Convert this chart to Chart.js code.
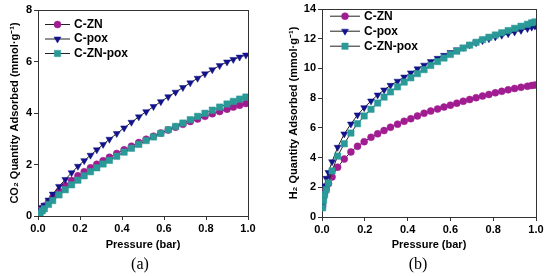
<!DOCTYPE html>
<html><head><meta charset="utf-8">
<script src="https://cdn.jsdelivr.net/npm/chart.js@4.4.1/dist/chart.umd.min.js"></script>
<style>
html,body{margin:0;padding:0;background:#fff;}
#wrap{position:relative;width:550px;height:276px;overflow:hidden;}
.cell{position:absolute;top:0;width:275px;height:276px;}
canvas{display:block;}
</style></head><body>
<div id="wrap">
<div class="cell" style="left:0"><canvas id="ca" width="275" height="276"></canvas></div>
<div class="cell" style="left:275px"><canvas id="cb" width="275" height="276"></canvas></div>
</div>
<script>
// ---------- DATA ----------
const seriesNames = ['C-ZN', 'C-pox', 'C-ZN-pox'];
const xTicks = [0.0, 0.2, 0.4, 0.6, 0.8, 1.0];
const yTicksA = [0, 2, 4, 6, 8];
const yTicksB = [0, 2, 4, 6, 8, 10, 12, 14];

// (a) CO2 adsorption, pressure in bar
const pressureA = [0.005,0.01,0.02,0.03,0.05,0.07,0.1,0.13,0.16,0.19,0.22,0.25,0.28,0.31,0.34,0.375,0.41,0.445,0.48,0.515,0.55,0.585,0.62,0.655,0.69,0.725,0.76,0.795,0.83,0.865,0.9,0.93,0.96,0.99];
const co2_CZN    = [0.12,0.2,0.3,0.38,0.55,0.72,0.95,1.18,1.38,1.56,1.72,1.87,2.01,2.15,2.28,2.43,2.57,2.71,2.85,2.98,3.1,3.22,3.34,3.45,3.56,3.67,3.77,3.87,3.97,4.06,4.15,4.23,4.3,4.37];
const co2_Cpox   = [0.1,0.2,0.32,0.42,0.62,0.85,1.15,1.42,1.68,1.93,2.15,2.36,2.57,2.78,2.98,3.2,3.42,3.64,3.85,4.05,4.25,4.44,4.63,4.81,4.99,5.17,5.35,5.52,5.68,5.84,5.98,6.08,6.17,6.25];
const co2_CZNpox = [0.05,0.1,0.2,0.28,0.45,0.6,0.82,1.02,1.21,1.39,1.56,1.72,1.87,2.02,2.16,2.32,2.48,2.63,2.78,2.93,3.07,3.21,3.35,3.48,3.61,3.74,3.87,3.99,4.11,4.23,4.35,4.45,4.54,4.62];

// (b) H2 adsorption, pressure in bar
const pressureB = [0.003,0.007,0.012,0.02,0.03,0.047,0.073,0.104,0.135,0.166,0.197,0.229,0.26,0.29,0.32,0.353,0.384,0.415,0.446,0.477,0.508,0.54,0.57,0.6,0.63,0.66,0.69,0.72,0.75,0.78,0.81,0.84,0.87,0.9,0.93,0.96,0.98,0.995];
const h2_CZN    = [0.75,1.3,1.6,1.9,2.25,2.7,3.35,3.9,4.38,4.76,5.07,5.36,5.6,5.82,6.04,6.25,6.44,6.62,6.8,6.98,7.13,7.27,7.4,7.53,7.66,7.79,7.91,8.03,8.14,8.25,8.36,8.46,8.56,8.65,8.73,8.8,8.85,8.88];
const h2_Cpox   = [0.9,1.5,2.1,2.6,3.0,3.72,4.69,5.59,6.26,6.87,7.36,7.81,8.21,8.55,8.86,9.14,9.42,9.7,9.97,10.22,10.46,10.68,10.88,11.07,11.25,11.42,11.58,11.73,11.87,12.0,12.12,12.23,12.34,12.45,12.56,12.68,12.78,12.85];
const h2_CZNpox = [0.62,1.1,1.5,1.85,2.3,3.1,4.1,4.93,5.65,6.28,6.8,7.25,7.67,8.07,8.42,8.76,9.08,9.37,9.65,9.92,10.2,10.46,10.7,10.94,11.16,11.37,11.57,11.76,11.94,12.1,12.25,12.4,12.55,12.7,12.84,12.97,13.07,13.13];

// ---------- STYLE ----------
const FONT = '"Liberation Sans", Arial, Helvetica, sans-serif';
const LINE_COLOR = '#222';
const FRAME_COLOR = '#333';
const styles = [
  {color:'#A01C90', pointStyle:'circle',   radius:3.5, rotation:0,   order:3},
  {color:'#12128A', pointStyle:'triangle', radius:4.0, rotation:180, order:2},
  {color:'#2A9A98', pointStyle:'rect',     radius:4.5, rotation:0,   order:1}
];

function toXY(xs, ys){ return xs.map((x,i)=>({x:x, y:ys[i]})); }

function makeDatasets(px, seriesList){
  return seriesList.map((vals,i)=>({
    label: seriesNames[i],
    data: toXY(px, vals),
    borderColor: LINE_COLOR,
    borderWidth: 1,
    pointStyle: styles[i].pointStyle,
    pointRadius: styles[i].radius,
    pointRotation: styles[i].rotation,
    pointBackgroundColor: styles[i].color,
    pointBorderColor: styles[i].color,
    pointBorderWidth: 0.5,
    tension: 0,
    fill: false,
    order: styles[i].order
  }));
}

const framePlugin = {
  id:'frame',
  beforeDatasetsDraw(chart){
    const a = chart.chartArea, ctx = chart.ctx;
    ctx.save();
    ctx.strokeStyle = FRAME_COLOR; ctx.lineWidth = 1;
    ctx.strokeRect(Math.round(a.left)+0.5, Math.round(a.top)+0.5, Math.round(a.right-a.left), Math.round(a.bottom-a.top));
    ctx.restore();
  }
};

const legendPlugin = {
  id:'insideLegend',
  afterDraw(chart, args, o){
    const ctx = chart.ctx;
    ctx.save();
    chart.data.datasets.forEach((ds,i)=>{
      const y = o.y0 + i*o.dy;
      ctx.strokeStyle = LINE_COLOR; ctx.lineWidth = 1;
      ctx.beginPath(); ctx.moveTo(o.x0, y+0.5); ctx.lineTo(o.x1, y+0.5); ctx.stroke();
      ctx.fillStyle = styles[i].color; ctx.strokeStyle = styles[i].color; ctx.lineWidth = 0.5;
      Chart.helpers.drawPoint(ctx, {pointStyle: styles[i].pointStyle, radius: styles[i].radius, rotation: styles[i].rotation, borderWidth:0.5}, (o.x0+o.x1)/2, y+0.5);
      ctx.fillStyle = '#000';
      ctx.font = 'bold 12px ' + FONT;
      ctx.textBaseline = 'middle'; ctx.textAlign = 'left';
      ctx.fillText(ds.label, o.x1 + 4, y+0.5);
    });
    ctx.restore();
  }
};

const captionPlugin = {
  id:'caption',
  afterDraw(chart, args, o){
    const ctx = chart.ctx;
    ctx.save();
    ctx.fillStyle = '#000';
    ctx.font = '16px "Liberation Serif", "Times New Roman", serif';
    ctx.textAlign = 'center'; ctx.textBaseline = 'middle';
    ctx.fillText(o.text, o.x, o.y);
    ctx.restore();
  }
};

function makeChart(id, px, seriesList, yMax, yTicks, yTitle, geo, caption){
  const tickFont = {family: FONT, size: 11, weight: 'bold'};
  return new Chart(document.getElementById(id), {
    type: 'line',
    data: { datasets: makeDatasets(px, seriesList) },
    plugins: [framePlugin, legendPlugin, captionPlugin],
    options: {
      responsive: false,
      animation: false,
      events: [],
      layout: { padding: {top: geo.top, right: geo.right, bottom: 24, left: 0} },
      plugins: {
        legend: {display: false},
        tooltip: {enabled: false},
        insideLegend: geo.legend,
        caption: caption
      },
      scales: {
        x: {
          type: 'linear', min: 0, max: 1,
          afterBuildTicks: s => { s.ticks = xTicks.map(v=>({value:v})); },
          afterFit: s => { s.height = geo.xH; },
          ticks: { font: tickFont, color: '#000', padding: 2, maxRotation: 0,
                   callback: v => Number(v).toFixed(1) },
          grid: { drawOnChartArea: false, tickLength: 4, color: FRAME_COLOR },
          border: { display: true, color: FRAME_COLOR },
          title: { display: true, text: 'Pressure (bar)', color: '#000',
                   font: {family: FONT, size: 11, weight: 'bold'}, padding: {top: 0, bottom: 0} }
        },
        y: {
          type: 'linear', min: 0, max: yMax,
          afterBuildTicks: s => { s.ticks = yTicks.map(v=>({value:v})); },
          afterFit: s => { s.width = geo.yW; },
          ticks: { font: tickFont, color: '#000', padding: 2 },
          grid: { drawOnChartArea: false, tickLength: 4, color: FRAME_COLOR },
          border: { display: true, color: FRAME_COLOR },
          title: { display: true, text: yTitle, color: '#000',
                   font: {family: FONT, size: 11, weight: 'bold'}, padding: {top: geo.yTitlePad, bottom: 0} }
        }
      }
    }
  });
}

makeChart('ca', pressureA, [co2_CZN, co2_Cpox, co2_CZNpox], 8, yTicksA,
  'CO\u2082 Quantity Adsorbed (mmol\u00B7g\u207B\u00B9)',
  {top: 10, right: 27, xH: 36, yW: 38, yTitlePad: 8.4,
   legend: {x0: 45, x1: 70, y0: 24, dy: 14.5}},
  {text: '(a)', x: 140, y: 265});

makeChart('cb', pressureB, [h2_CZN, h2_Cpox, h2_CZNpox], 14, yTicksB,
  'H\u2082 Quantity Adsorbed (mmol\u00B7g\u207B\u00B9)',
  {top: 9, right: 14, xH: 35, yW: 47, yTitlePad: 12.4,
   legend: {x0: 55, x1: 85, y0: 15.7, dy: 15}},
  {text: '(b)', x: 143, y: 265});
</script>
</body></html>
